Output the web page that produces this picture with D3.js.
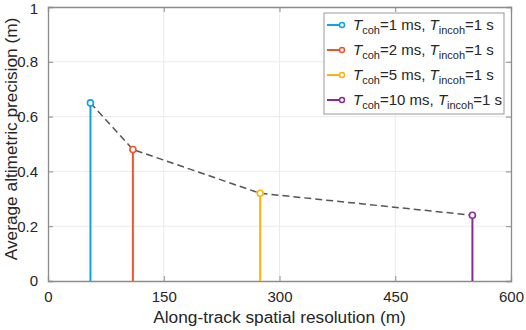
<!DOCTYPE html>
<html><head><meta charset="utf-8">
<script src="https://cdn.jsdelivr.net/npm/d3@7"></script>
<style>body{margin:0;background:#fff}svg{display:block}text{font-family:"Liberation Sans",Arial,sans-serif}</style>
</head><body><svg id="c" width="526" height="330"></svg>
<script>
const resolution = [55, 110, 275, 550];
const precision = [0.65, 0.48, 0.32, 0.24];
const coh = ["1", "2", "5", "10"];
const colors = ["#0ea2e6", "#f0542a", "#ffb10a", "#8a2a94"];
const xTicks = [0, 150, 300, 450, 600];
const yTicks = [0, 0.2, 0.4, 0.6, 0.8, 1];

const svg = d3.select("#c");
const L = 48, R = 511, T = 7, B = 281;
const x = d3.scaleLinear().domain([0, 600]).range([L, R]);
const y = d3.scaleLinear().domain([0, 1]).range([B, T]);

// grid
svg.append("g").selectAll("line").data(xTicks.slice(1, -1)).join("line")
  .attr("x1", d => x(d)).attr("x2", d => x(d)).attr("y1", T).attr("y2", B)
  .attr("stroke", "#ebebeb").attr("stroke-width", 1);
svg.append("g").selectAll("line").data(yTicks.slice(1, -1)).join("line")
  .attr("y1", d => y(d)).attr("y2", d => y(d)).attr("x1", L).attr("x2", R)
  .attr("stroke", "#ebebeb").attr("stroke-width", 1);

// axes
const axColor = "#8c8c8c";
const xa = svg.append("g").attr("transform", `translate(0,${B})`)
  .call(d3.axisBottom(x).tickValues(xTicks).tickSize(-5).tickPadding(10).tickFormat(d3.format("d")));
const xt = svg.append("g").attr("transform", `translate(0,${T})`)
  .call(d3.axisTop(x).tickValues(xTicks).tickSize(-5).tickFormat(""));
const ya = svg.append("g").attr("transform", `translate(${L},0)`)
  .call(d3.axisLeft(y).tickValues(yTicks).tickSize(-5).tickPadding(10).tickFormat(d => d === 0 || d === 1 ? d3.format("d")(d) : d3.format(".1f")(d)));
const yr = svg.append("g").attr("transform", `translate(${R},0)`)
  .call(d3.axisRight(y).tickValues(yTicks).tickSize(-5).tickFormat(""));
[xa, xt, ya, yr].forEach(g => {
  g.select(".domain").attr("stroke", axColor).attr("stroke-width", 1.3);
  g.selectAll(".tick line").attr("stroke", axColor);
  g.selectAll(".tick text").attr("fill", "#262626").style("font-size", "15px").style("font-family", "'Liberation Sans',Arial,sans-serif");
});
ya.selectAll(".tick text").filter(d => d === 1).attr("dy", "0.4em");

// dashed line
svg.append("path")
  .datum(resolution.map((r, i) => [r, precision[i]]))
  .attr("d", d3.line().x(d => x(d[0])).y(d => y(d[1])))
  .attr("fill", "none").attr("stroke", "#555").attr("stroke-width", 1.5)
  .attr("stroke-dasharray", "7,4");

// stems
const g = svg.append("g");
resolution.forEach((r, i) => {
  g.append("line").attr("x1", x(r)).attr("x2", x(r)).attr("y1", y(0)).attr("y2", y(precision[i]))
    .attr("stroke", colors[i]).attr("stroke-width", 2);
  g.append("circle").attr("cx", x(r)).attr("cy", y(precision[i])).attr("r", 3)
    .attr("fill", "#fff").attr("stroke", colors[i]).attr("stroke-width", 1.6);
});

// axis labels
svg.append("text").attr("x", (L + R) / 2).attr("y", 323).attr("text-anchor", "middle")
  .style("font-size", "17.3px").attr("fill", "#262626").text("Along-track spatial resolution (m)");
svg.append("text").attr("transform", `translate(17,139) rotate(-90)`).attr("text-anchor", "middle")
  .style("font-size", "17.3px").attr("fill", "#262626").text("Average altimetric precision (m)");

// legend
const lg = svg.append("g");
lg.append("rect").attr("x", 324).attr("y", 13).attr("width", 180).attr("height", 101)
  .attr("fill", "#fff").attr("stroke", "#999").attr("stroke-width", 1);
coh.forEach((c, i) => {
  const cy = 25 + i * 25;
  lg.append("line").attr("x1", 327).attr("x2", 342).attr("y1", cy).attr("y2", cy)
    .attr("stroke", colors[i]).attr("stroke-width", 2);
  lg.append("circle").attr("cx", 342).attr("cy", cy).attr("r", 2.5)
    .attr("fill", "#fff").attr("stroke", colors[i]).attr("stroke-width", 1.5);
  const t = lg.append("text").attr("x", 353).attr("y", cy + 5).style("font-size", "15px").attr("fill", "#262626");
  t.append("tspan").style("font-style", "italic").text("T");
  t.append("tspan").attr("dy", 4).style("font-size", "11px").text("coh");
  t.append("tspan").attr("dy", -4).text(`=${c} ms, `);
  t.append("tspan").style("font-style", "italic").text("T");
  t.append("tspan").attr("dy", 4).style("font-size", "11px").text("incoh");
  t.append("tspan").attr("dy", -4).text("=1 s");
});
</script></body></html>
